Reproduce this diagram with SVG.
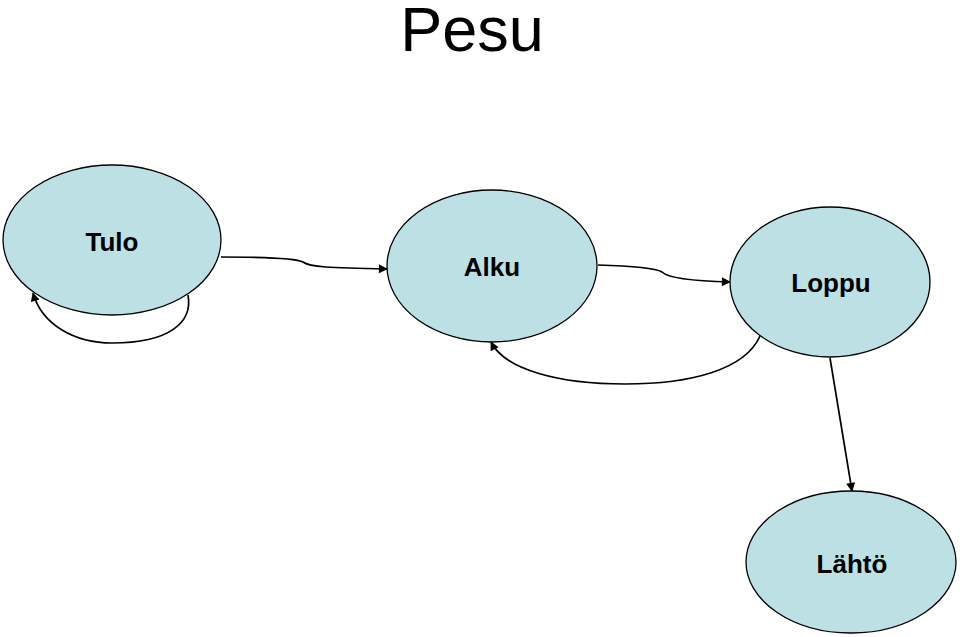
<svg xmlns="http://www.w3.org/2000/svg" width="960" height="637" viewBox="0 0 960 637">
<defs>
<style>
.node{fill:#bde0e4;stroke:#000;stroke-width:1.3}
.lbl{font-family:"Liberation Sans",Arial,sans-serif;font-weight:bold;font-size:26px;text-anchor:middle;fill:#000}
.edge{fill:none;stroke:#000;stroke-width:1.7;marker-end:url(#arr)}
</style>
<marker id="arr" viewBox="0 0 10 10" refX="9" refY="5" markerWidth="10" markerHeight="9" orient="auto" markerUnits="userSpaceOnUse">
<path d="M0,0 L10,5 L0,10 z" fill="#000"/>
</marker>
</defs>
<rect width="960" height="637" fill="#fff"/>
<text x="472" y="51" font-family="Liberation Sans,Arial,sans-serif" font-size="63" text-anchor="middle">Pesu</text>
<g id="connectors">
<path class="edge" d="M221,257 C260,257 296,258 303,262 C309,267 330,268 387,269"/>
<path class="edge" d="M598,265 C632,266 655,268 662,272 C668,278 690,281 730,282"/>
<path class="edge" d="M760,336 C745,370 690,384 625,384 C560,384 505,370 491,342"/>
<path class="edge" d="M188,295 C193,322 170,343 112,343 C75,343 42,325 33,293"/>
<path class="edge" d="M830,358 L852,491"/>
</g>
<g id="tulo"><ellipse class="node" cx="112" cy="240" rx="109" ry="75"/><text class="lbl" x="112" y="251">Tulo</text></g>
<g id="alku"><ellipse class="node" cx="492" cy="266" rx="105" ry="76"/><text class="lbl" x="492" y="276">Alku</text></g>
<g id="loppu"><ellipse class="node" cx="830" cy="282" rx="100" ry="75"/><text class="lbl" x="831" y="292">Loppu</text></g>
<g id="lahto"><ellipse class="node" cx="851" cy="562" rx="105" ry="71"/><text class="lbl" x="852" y="573">Lähtö</text></g>
</svg>
